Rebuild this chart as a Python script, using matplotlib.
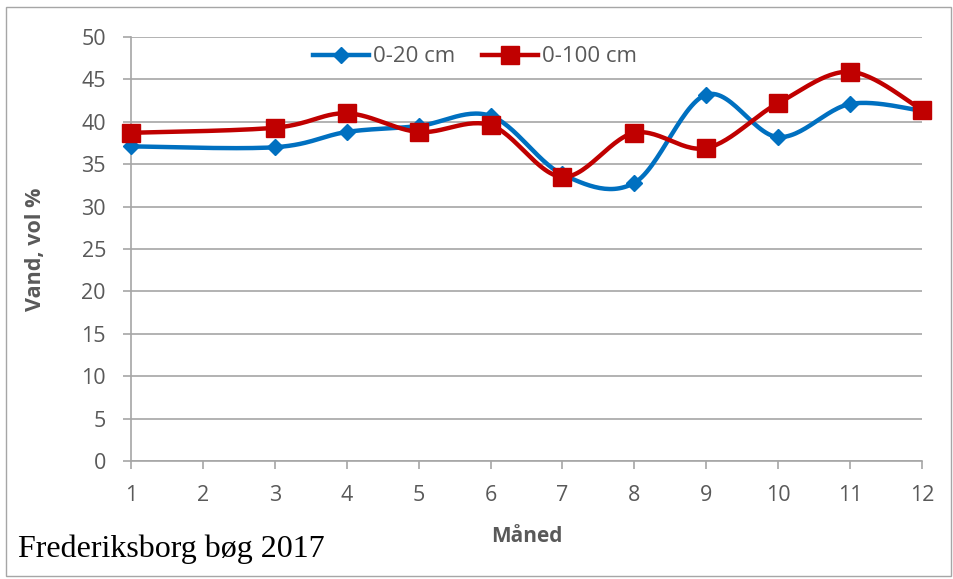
import numpy as np
import matplotlib.pyplot as plt
from matplotlib.patches import Rectangle

# Data (month, water content vol %)
months = [1, 3, 4, 5, 6, 7, 8, 9, 10, 11, 12]
vand_0_20 = [37.1, 37.0, 38.8, 39.5, 40.7, 33.8, 32.8, 43.2, 38.2, 42.1, 41.3]
vand_0_100 = [38.7, 39.3, 41.0, 38.8, 39.6, 33.5, 38.7, 36.9, 42.2, 45.9, 41.4]
x_ticks = list(range(1, 13))
y_ticks = list(range(0, 51, 5))


def smooth(xs, ys, n=30):
    # Excel-style smoothed line: cubic Bezier with Catmull-Rom tangents
    xs = np.asarray(xs, float)
    ys = np.asarray(ys, float)
    P = np.column_stack([xs, ys])
    out = [P[0]]
    for i in range(len(P) - 1):
        p0 = P[i - 1] if i > 0 else P[i]
        p1, p2 = P[i], P[i + 1]
        p3 = P[i + 2] if i + 2 < len(P) else P[i + 1]
        c1 = p1 + (p2 - p0) / 6
        c2 = p2 - (p3 - p1) / 6
        t = np.linspace(0, 1, n)[1:, None]
        seg = ((1 - t) ** 3) * p1 + 3 * ((1 - t) ** 2) * t * c1 + 3 * (1 - t) * t ** 2 * c2 + t ** 3 * p2
        out.extend(seg)
    out = np.array(out)
    return out[:, 0], out[:, 1]


gray = '#595959'
blue = '#0070C0'
red = '#C00000'
font = 'Open Sans'

fig = plt.figure(figsize=(9.54, 5.79), dpi=100)
ax = fig.add_axes([0.1373, 0.2038, 0.8292, 0.7323])

# outer chart border
fig.add_artist(Rectangle((0.0065, 0.005), 0.99, 0.983, transform=fig.transFigure,
                         fill=False, edgecolor='#A6A6A6', linewidth=1))

sx, sy = smooth(months, vand_0_20)
ax.plot(sx, sy, color=blue, lw=3.2, solid_capstyle='round', zorder=3, clip_on=False)
ax.plot(months, vand_0_20, ls='none', marker='D', ms=8, color=blue, zorder=4, clip_on=False)
ax.plot([], [], color=blue, lw=3.2, marker='D', ms=8, label='0-20 cm')

sx, sy = smooth(months, vand_0_100)
ax.plot(sx, sy, color=red, lw=3.2, solid_capstyle='round', zorder=3, clip_on=False)
ax.plot(months, vand_0_100, ls='none', marker='s', ms=13, color=red, zorder=5, clip_on=False)
ax.plot([], [], color=red, lw=3.2, marker='s', ms=13, label='0-100 cm')

ax.set_xlim(1, 12)
ax.set_ylim(0, 50)
ax.set_xticks(x_ticks)
ax.set_yticks(y_ticks)
ax.grid(axis='y', color='#A6A6A6', lw=1.2)
ax.set_axisbelow(True)
for s in ['top', 'right']:
    ax.spines[s].set_visible(False)
for s in ['left', 'bottom']:
    ax.spines[s].set_color('#A6A6A6')
    ax.spines[s].set_linewidth(1.2)
ax.tick_params(axis='both', colors='#A6A6A6', labelcolor=gray, labelsize=15.5,
               length=6, width=1.2)
ax.tick_params(axis='y', pad=12)
ax.tick_params(axis='x', pad=11)
for lab in ax.get_xticklabels() + ax.get_yticklabels():
    lab.set_family(font)

ax.set_ylabel('Vand, vol %', fontsize=15.5, fontweight='bold', color=gray, family=font)
ax.yaxis.set_label_coords(-0.107, 0.5)
ax.set_xlabel('Måned', fontsize=15, fontweight='bold', color=gray, family=font)
ax.xaxis.label.set_va('center')
ax.xaxis.set_label_coords(0.5, -0.178)

ax.legend(loc='center', bbox_to_anchor=(0.435, 0.953), ncol=2, frameon=False,
          prop={'family': font, 'size': 16}, labelcolor=gray,
          handlelength=2.5, columnspacing=1.2, handletextpad=0.2)

fig.text(0.019, 0.038, 'Frederiksborg bøg 2017', family='Liberation Serif',
         fontsize=23, color='black', va='baseline')

fig.savefig('out.png', dpi=100)
